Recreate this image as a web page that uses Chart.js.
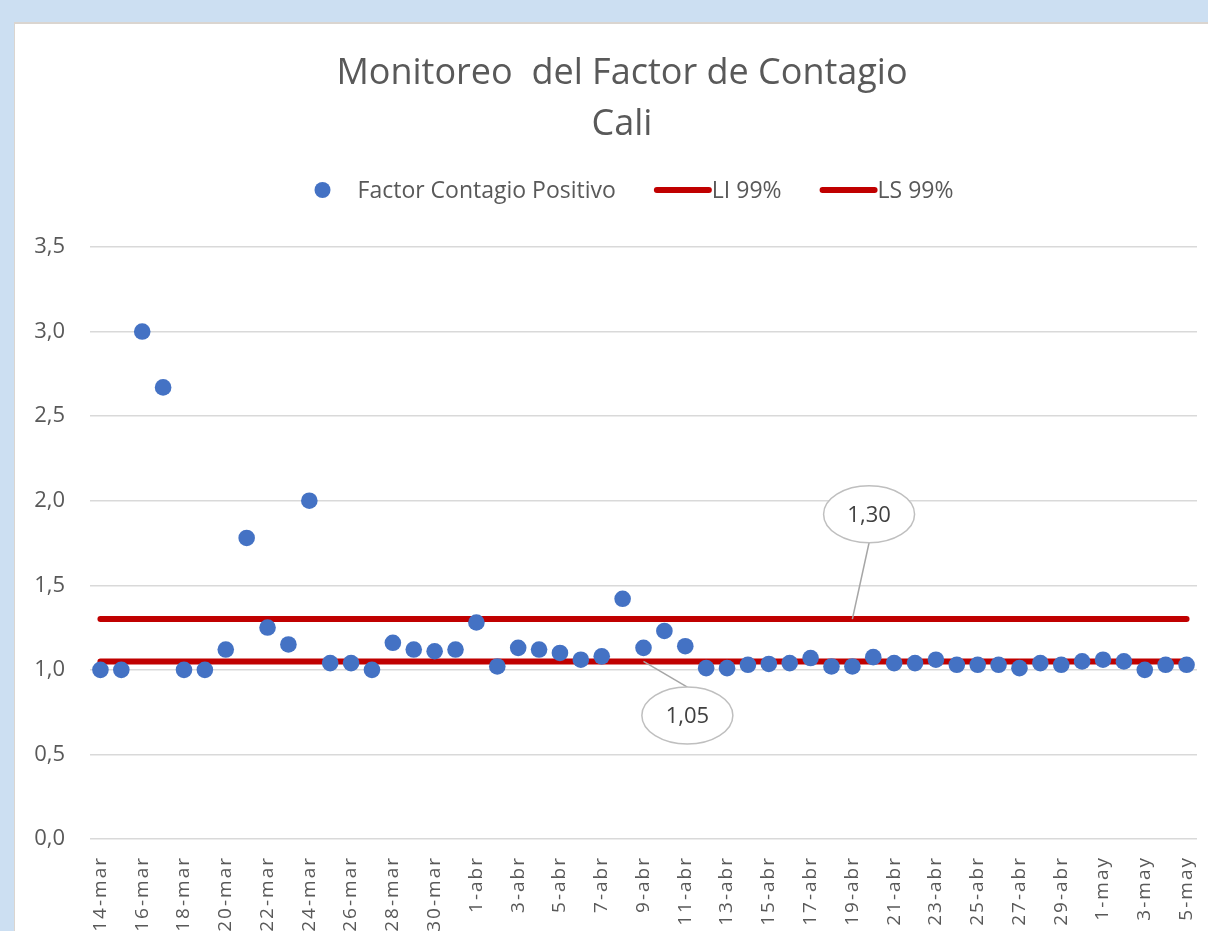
<!DOCTYPE html>
<html>
<head>
<meta charset="utf-8">
<script src="https://cdn.jsdelivr.net/npm/chart.js@4"></script>
<style>
html,body{margin:0;padding:0;width:1208px;height:931px;overflow:hidden;background:#CCDFF2;}
#box{position:absolute;left:14px;top:22px;width:1240px;height:1000px;background:#fff;border-left:1px solid #DAD5D0;border-top:2px solid #DAD5D0;}
#wrap{position:absolute;left:0;top:0;width:1214px;height:990px;}
</style>
</head>
<body>
<div id="box"><div id="wrap"><canvas id="c"></canvas></div></div>
<script>
// ---- data ----
const labels = [
  '14-mar','15-mar','16-mar','17-mar','18-mar','19-mar','20-mar','21-mar','22-mar','23-mar',
  '24-mar','25-mar','26-mar','27-mar','28-mar','29-mar','30-mar','31-mar',
  '1-abr','2-abr','3-abr','4-abr','5-abr','6-abr','7-abr','8-abr','9-abr','10-abr',
  '11-abr','12-abr','13-abr','14-abr','15-abr','16-abr','17-abr','18-abr','19-abr','20-abr',
  '21-abr','22-abr','23-abr','24-abr','25-abr','26-abr','27-abr','28-abr','29-abr','30-abr',
  '1-may','2-may','3-may','4-may','5-may'
];
const factorContagio = [
  1.00,1.00,3.00,2.67,1.00,1.00,1.12,1.78,1.25,1.15,
  2.00,1.04,1.04,1.00,1.16,1.12,1.11,1.12,
  1.28,1.02,1.13,1.12,1.10,1.06,1.08,1.42,1.13,1.23,
  1.14,1.01,1.01,1.03,1.035,1.04,1.07,1.02,1.02,1.075,
  1.04,1.04,1.06,1.03,1.03,1.03,1.01,1.04,1.03,1.05,
  1.06,1.05,1.00,1.03,1.03
];
const LI = 1.05;   // LI 99%
const LS = 1.30;   // LS 99%
const liSeries = labels.map(() => LI);
const lsSeries = labels.map(() => LS);
const seriesNames = ['Factor Contagio Positivo', 'LI 99%', 'LS 99%'];
const titleLines = ['Monitoreo  del Factor de Contagio', 'Cali'];
const yMin = 0, yMax = 3.5, yStep = 0.5;
// callouts: label text, anchored at a category index / value, bubble at index / value
const calloutTexts = ['1,30', '1,05'];
const calloutAnchorIdx = [36, 26];
const calloutAnchorVal = [LS, LI];
const calloutBubbleIdx = [36.8, 28.1];
const calloutBubbleVal = [1.92, 0.73];

const BLUE = '#4472C4', RED = '#C00000', TXT = '#595959';
const FONT = "'Open Sans', sans-serif";

const titlePlugin = {
  id: 'excelTitle',
  afterDraw(chart) {
    const ctx = chart.ctx;
    ctx.save();
    ctx.font = '36px ' + FONT;
    ctx.fillStyle = TXT;
    ctx.textAlign = 'center';
    ctx.textBaseline = 'middle';
    const cx = chart.width / 2;
    const top = chart.chartArea.top - 173.5;
    titleLines.forEach((t, i) => ctx.fillText(t, cx, top + i * 51));
    ctx.restore();
  }
};

const legendPlugin = {
  id: 'excelLegend',
  afterDraw(chart) {
    const ctx = chart.ctx;
    ctx.save();
    ctx.font = '23px ' + FONT;
    ctx.textBaseline = 'middle';
    ctx.fillStyle = TXT;
    const items = chart.data.datasets.map(d => ({text: d.label, kind: d.showLine === false ? 'point' : 'line', color: d.borderColor || d.backgroundColor, bg: d.backgroundColor}));
    const widths = items.map(it => (it.kind === 'point' ? 43 : 58) + ctx.measureText(it.text).width);
    const gap = 38;
    const total = widths.reduce((a, b) => a + b, 0) + gap * (items.length - 1);
    let x = chart.width / 2 + 12 - total / 2;
    const y = chart.chartArea.top - 57;
    items.forEach((it, i) => {
      if (it.kind === 'point') {
        ctx.beginPath();
        ctx.fillStyle = it.bg;
        ctx.arc(x + 8, y, 8, 0, Math.PI * 2);
        ctx.fill();
        ctx.fillStyle = TXT;
        ctx.fillText(it.text, x + 43, y + 1);
      } else {
        ctx.beginPath();
        ctx.strokeStyle = it.color;
        ctx.lineWidth = 6;
        ctx.lineCap = 'round';
        ctx.moveTo(x + 3, y);
        ctx.lineTo(x + 55, y);
        ctx.stroke();
        ctx.fillStyle = TXT;
        ctx.fillText(it.text, x + 58, y + 1);
      }
      x += widths[i] + gap;
    });
    ctx.restore();
  }
};

const calloutPlugin = {
  id: 'callouts',
  afterDraw(chart) {
    const ctx = chart.ctx;
    const xs = chart.scales.x, ys = chart.scales.y;
    const rx = 45.5, ry = 28.5;
    ctx.save();
    calloutTexts.forEach((t, i) => {
      const ax = xs.getPixelForValue(calloutAnchorIdx[i]);
      const ay = ys.getPixelForValue(calloutAnchorVal[i]);
      const bx = xs.getPixelForValue(calloutBubbleIdx[i]);
      const by = ys.getPixelForValue(calloutBubbleVal[i]);
      const ey = ay > by ? by + ry : by - ry;
      ctx.beginPath();
      ctx.strokeStyle = '#A6A6A6';
      ctx.lineWidth = 1.5;
      ctx.moveTo(ax, ay);
      ctx.lineTo(bx, ey);
      ctx.stroke();
      ctx.beginPath();
      ctx.ellipse(bx, by, rx, ry, 0, 0, Math.PI * 2);
      ctx.fillStyle = '#FFFFFF';
      ctx.fill();
      ctx.strokeStyle = '#BFBFBF';
      ctx.lineWidth = 1.5;
      ctx.stroke();
      ctx.fillStyle = '#404040';
      ctx.font = '22px ' + FONT;
      ctx.textAlign = 'center';
      ctx.textBaseline = 'middle';
      ctx.fillText(t, bx, by + 1);
    });
    ctx.restore();
  }
};

new Chart(document.getElementById('c'), {
  type: 'line',
  data: {
    labels: labels,
    datasets: [
      {label: seriesNames[0], data: factorContagio, showLine: false, backgroundColor: BLUE, borderColor: BLUE,
       pointRadius: 8.3, pointBorderWidth: 0, pointHoverRadius: 8.3, order: 0},
      {label: seriesNames[1], data: liSeries, borderColor: RED, backgroundColor: RED, borderWidth: 6,
       borderCapStyle: 'round', pointRadius: 0, pointHoverRadius: 0, order: 1},
      {label: seriesNames[2], data: lsSeries, borderColor: RED, backgroundColor: RED, borderWidth: 6,
       borderCapStyle: 'round', pointRadius: 0, pointHoverRadius: 0, order: 1}
    ]
  },
  options: {
    responsive: true,
    maintainAspectRatio: false,
    animation: false,
    layout: {padding: {left: 0, right: 32, top: 223, bottom: 0}},
    plugins: {
      legend: {display: false},
      tooltip: {enabled: false},
      title: {display: false}
    },
    scales: {
      x: {
        type: 'category',
        offset: true,
        grid: {display: false},
        border: {display: false},
        ticks: {
          autoSkip: false, maxRotation: 90, minRotation: 90, padding: 9,
          color: TXT, font: {family: FONT, size: 19},
          callback: (v, i) => (i % 2 === 0 ? labels[i] : '')
        },
        afterFit: (s) => {
          s.height = 175;
          if (!s._ls) {
            const orig = s.drawLabels;
            s.drawLabels = function (ca) {
              const c = this.ctx; const prev = c.letterSpacing;
              c.letterSpacing = '2px';
              orig.call(this, ca);
              c.letterSpacing = prev || '0px';
            };
            s._ls = true;
          }
        }
      },
      y: {
        min: yMin, max: yMax,
        grid: {color: '#D9D9D9', lineWidth: 1.5, drawTicks: false},
        border: {display: false},
        ticks: {
          stepSize: yStep, padding: 25, color: TXT, font: {family: FONT, size: 22},
          callback: (v) => v.toFixed(1).replace('.', ',')
        },
        afterFit: (s) => { s.width = 75; }
      }
    }
  },
  plugins: [titlePlugin, legendPlugin, calloutPlugin]
});
</script>
</body>
</html>
